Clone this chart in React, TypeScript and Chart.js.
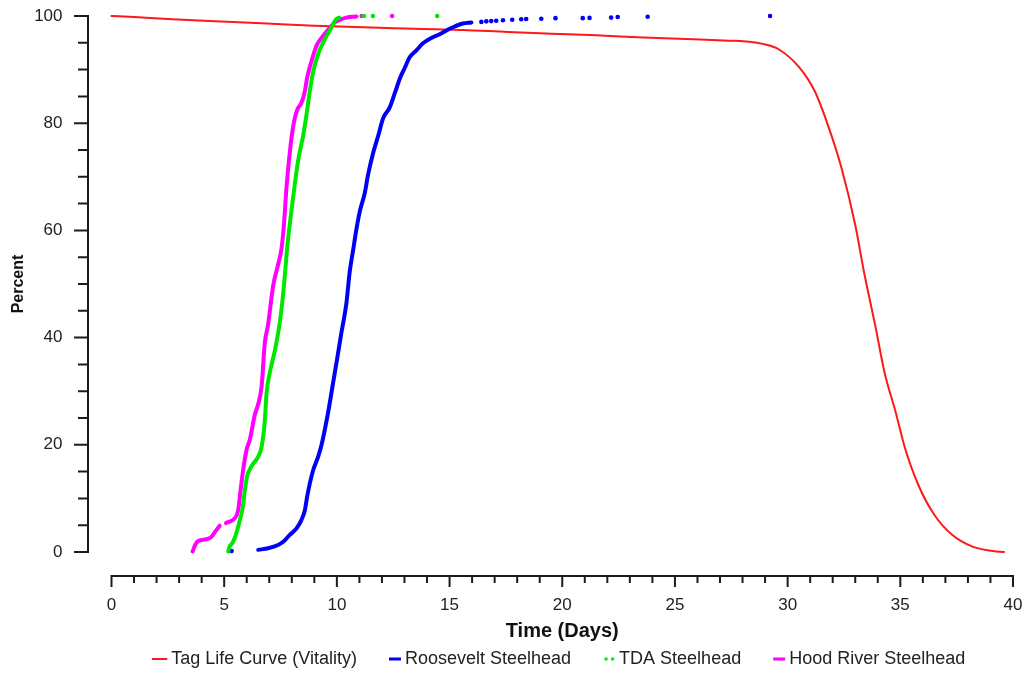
import { useEffect, useRef } from "react";
import { Chart, registerables } from "chart.js";

Chart.register(...registerables);

// Legend entries in display order
const seriesNames = [
  "Tag Life Curve (Vitality)",
  "Roosevelt Steelhead",
  "TDA Steelhead",
  "Hood River Steelhead",
];

// Tag life (vitality) curve: percent of tags still alive vs. days
const tagLifeDays = [0, 1.0, 2.7, 4.6, 6.9, 9.0, 11.9, 15.6, 17.6, 19.5, 21.5, 23.6, 25.5, 27.4, 28.3, 28.9, 29.6, 30.5, 31.2, 31.8, 32.4, 33.0, 33.4, 33.9, 34.3, 34.8, 35.2, 35.8, 36.5, 37.3, 38.2, 39.1, 39.6];
const tagLifePct = [100, 99.8, 99.4, 99.0, 98.6, 98.2, 97.8, 97.4, 97.0, 96.7, 96.4, 96.0, 95.7, 95.4, 95.2, 94.8, 93.8, 90.5, 86.0, 79.5, 71.5, 61.0, 52.0, 42.0, 33.5, 26.0, 19.5, 12.5, 7.0, 3.2, 1.0, 0.2, 0];

// Roosevelt Steelhead cumulative detections
const rooseveltDays = [6.51, 6.95, 7.39, 7.62, 7.91, 8.21, 8.43, 8.58, 8.68, 8.80, 8.95, 9.17, 9.32, 9.61, 9.83, 10.01, 10.20, 10.42, 10.57, 10.72, 10.87, 11.02, 11.24, 11.38, 11.60, 11.83, 12.05, 12.34, 12.57, 12.79, 13.01, 13.23, 13.53, 13.82, 14.19, 14.56, 14.86, 15.15, 15.59, 15.97];
const rooseveltPct = [0.4, 0.7, 1.3, 1.9, 3.2, 4.4, 6.0, 7.8, 10.3, 12.8, 15.3, 17.8, 20.0, 26.0, 31.5, 36.0, 40.9, 46.3, 52.3, 56.3, 60.3, 63.6, 67.0, 70.3, 74.3, 77.6, 80.9, 82.9, 85.6, 88.3, 90.3, 92.3, 93.6, 94.9, 95.9, 96.6, 97.3, 97.9, 98.6, 98.8];
const rooseveltLoneDays = [5.33, 16.41, 16.63, 16.85, 17.07, 17.37, 17.78, 18.18, 18.40, 19.07, 19.70, 20.91, 21.21, 22.17, 22.46, 23.79, 29.22];
const rooseveltLonePct = [0.2, 98.9, 99.0, 99.05, 99.1, 99.2, 99.3, 99.4, 99.45, 99.5, 99.6, 99.6, 99.65, 99.7, 99.8, 99.85, 100];

// TDA Steelhead cumulative detections
const tdaDays = [5.18, 5.24, 5.35, 5.47, 5.58, 5.70, 5.82, 5.92, 6.02, 6.15, 6.29, 6.51, 6.66, 6.80, 6.88, 7.03, 7.25, 7.47, 7.62, 7.72, 7.80, 7.95, 8.10, 8.28, 8.50, 8.65, 8.80, 8.95, 9.17, 9.46, 9.69, 9.95, 10.10];
const tdaPct = [0.1, 1.0, 1.6, 2.6, 4.1, 6.0, 8.2, 11.6, 14.2, 15.5, 16.5, 17.8, 19.6, 24.3, 29.6, 33.6, 37.6, 42.9, 48.3, 53.0, 57.0, 62.5, 67.5, 73.0, 77.6, 81.5, 86.0, 89.6, 92.9, 95.6, 97.3, 99.3, 99.7];
const tdaLoneDays = [11.2, 11.6, 14.45];
const tdaLonePct = [100, 100, 100];

// Hood River Steelhead cumulative detections (null marks the break near day 5)
const hoodDays = [3.60, 3.70, 3.80, 4.10, 4.40, 4.60, 4.80, 4.95, 5.08, 5.47, 5.62, 5.73, 5.84, 5.99, 6.14, 6.36, 6.51, 6.66, 6.80, 6.95, 7.17, 7.39, 7.54, 7.65, 7.77, 7.95, 8.10, 8.25, 8.43, 8.58, 8.68, 8.87, 9.10, 9.39, 9.65, 9.90, 10.20, 10.42, 10.87];
const hoodPct = [0.1, 1.2, 1.9, 2.3, 2.7, 3.8, 4.9, null, 5.4, 6.3, 7.8, 11.6, 15.3, 19.0, 21.0, 25.6, 27.6, 30.9, 38.9, 42.5, 49.6, 53.6, 56.5, 61.0, 68.3, 76.0, 80.3, 82.6, 83.8, 86.0, 88.5, 91.5, 94.5, 96.3, 97.6, 98.8, 99.4, 99.7, 99.9];
const hoodLoneDays = [11.1, 12.45];
const hoodLonePct = [100, 100];

// Axis ranges and tick steps
const xRange = [0, 40];
const yRange = [0, 100];
const xMinorStep = 1;
const xMajorStep = 5;
const yMinorStep = 5;
const yMajorStep = 20;

const colors = {
  tagLife: "rgb(255,24,24)",
  roosevelt: "rgb(0,0,245)",
  tda: "rgb(0,232,0)",
  hood: "rgb(255,0,255)",
};

const FONT = '"Liberation Sans", Arial, Helvetica, sans-serif';
const AXIS_COLOR = "#1c1c1c";

const pairs = (xs: number[], ys: (number | null)[]) =>
  xs.map((x, i) => ({ x, y: ys[i] }));

// Axes drawn detached from the plot: each axis line covers only its own range
const detachedAxes = {
  id: "detachedAxes",
  beforeDatasetsDraw(chart: any) {
    const { ctx } = chart;
    const xs = chart.scales.x;
    const ys = chart.scales.y;
    const yAxisX = xs.getPixelForValue(xRange[0]) - 23.5;
    const xAxisY = ys.getPixelForValue(yRange[0]) + 24;
    ctx.save();
    ctx.strokeStyle = AXIS_COLOR;
    ctx.lineWidth = 2;
    ctx.lineCap = "butt";

    // vertical axis
    const yTop = ys.getPixelForValue(yRange[1]);
    const yBottom = ys.getPixelForValue(yRange[0]);
    ctx.beginPath();
    ctx.moveTo(yAxisX, yTop - 1);
    ctx.lineTo(yAxisX, yBottom + 1);
    ys.ticks.forEach((t: any) => {
      if (t.value < yRange[0] || t.value > yRange[1]) return;
      const py = ys.getPixelForValue(t.value);
      const len = t.value % yMajorStep === 0 ? 14 : 10;
      ctx.moveTo(yAxisX - len, py);
      ctx.lineTo(yAxisX, py);
    });
    ctx.stroke();

    // horizontal axis
    const xLeft = xs.getPixelForValue(xRange[0]);
    const xRight = xs.getPixelForValue(xRange[1]);
    ctx.beginPath();
    ctx.moveTo(xLeft - 1, xAxisY);
    ctx.lineTo(xRight + 1, xAxisY);
    xs.ticks.forEach((t: any) => {
      if (t.value < xRange[0] || t.value > xRange[1]) return;
      const px = xs.getPixelForValue(t.value);
      const len = t.value % xMajorStep === 0 ? 11 : 7;
      ctx.moveTo(px, xAxisY);
      ctx.lineTo(px, xAxisY + len);
    });
    ctx.stroke();
    ctx.restore();
  },
};

// Legend swatches: short line or pair of dots ending just before the label
function makeSwatch(color: string, kind: "thin" | "thick" | "dots") {
  const c = document.createElement("canvas");
  c.width = 17;
  c.height = 6;
  const g = c.getContext("2d")!;
  g.fillStyle = color;
  const end = 15;
  if (kind === "thin") {
    g.fillRect(end - 15, 2, 15, 2);
  } else if (kind === "thick") {
    g.fillRect(end - 12, 1.5, 12, 3);
  } else {
    g.beginPath();
    g.arc(end - 9, 3, 1.8, 0, Math.PI * 2);
    g.arc(end - 2.5, 3, 1.8, 0, Math.PI * 2);
    g.fill();
  }
  return c;
}

export default function App() {
  const canvasRef = useRef<HTMLCanvasElement | null>(null);

  useEffect(() => {
    if (!canvasRef.current) return;
    Chart.defaults.font.family = FONT;

    const swatches = [
      makeSwatch(colors.tagLife, "thin"),
      makeSwatch(colors.roosevelt, "thick"),
      makeSwatch(colors.tda, "dots"),
      makeSwatch(colors.hood, "thick"),
    ];
    const swatchColors = [colors.tagLife, colors.roosevelt, colors.tda, colors.hood];

    const curve = (label: string, data: any[], color: string, width: number) => ({
      label,
      data,
      showLine: true,
      borderColor: color,
      backgroundColor: color,
      borderWidth: width,
      pointRadius: 0,
      cubicInterpolationMode: "monotone" as const,
      borderCapStyle: "round" as const,
      borderJoinStyle: "round" as const,
      spanGaps: false,
      clip: false as const,
    });
    const lone = (label: string, data: any[], color: string) => ({
      label,
      data,
      showLine: false,
      backgroundColor: color,
      borderColor: color,
      borderWidth: 0,
      pointRadius: 2.3,
      clip: false as const,
    });

    const chart = new Chart(canvasRef.current, {
      type: "scatter",
      data: {
        datasets: [
          curve(seriesNames[2], pairs(tdaDays, tdaPct), colors.tda, 4),
          curve(seriesNames[3], pairs(hoodDays, hoodPct), colors.hood, 4),
          curve(seriesNames[1], pairs(rooseveltDays, rooseveltPct), colors.roosevelt, 4),
          curve(seriesNames[0], pairs(tagLifeDays, tagLifePct), colors.tagLife, 2),
          lone(seriesNames[2], pairs(tdaLoneDays, tdaLonePct), colors.tda),
          lone(seriesNames[3], pairs(hoodLoneDays, hoodLonePct), colors.hood),
          lone(seriesNames[1], pairs(rooseveltLoneDays, rooseveltLonePct), colors.roosevelt),
        ],
      },
      options: {
        responsive: false,
        animation: false,
        events: [],
        layout: { padding: { top: 16, right: 15, bottom: 0, left: 0 } },
        scales: {
          x: {
            type: "linear",
            position: "bottom",
            min: xRange[0],
            max: xRange[1],
            grid: { display: false, drawTicks: false },
            border: { display: false },
            ticks: {
              stepSize: xMinorStep,
              autoSkip: false,
              maxRotation: 0,
              padding: 43,
              color: "#222",
              font: { size: 17 },
              callback: (v: any) => (Number(v) % xMajorStep === 0 ? String(v) : ""),
            },
            title: {
              display: true,
              text: "Time (Days)",
              color: "#111",
              font: { size: 20, weight: "bold" },
              padding: { top: 0, bottom: -29 },
            },
            afterFit: (s: any) => {
              s.height = 62;
              s.paddingLeft = 0;
              s.paddingRight = 0;
            },
          },
          y: {
            type: "linear",
            min: yRange[0],
            max: yRange[1],
            grid: { display: false, drawTicks: false },
            border: { display: false },
            ticks: {
              stepSize: yMinorStep,
              autoSkip: false,
              padding: 49,
              color: "#222",
              font: { size: 17 },
              callback: (v: any) => (Number(v) % yMajorStep === 0 ? String(v) : ""),
            },
            title: {
              display: true,
              text: "Percent",
              color: "#111",
              font: { size: 16, weight: "bold" },
              padding: { top: 9, bottom: 0 },
            },
            afterFit: (s: any) => {
              s.width = 111.5;
              s.paddingTop = 0;
              s.paddingBottom = 0;
            },
          },
        },
        plugins: {
          tooltip: { enabled: false },
          legend: {
            position: "bottom",
            fullSize: false,
            labels: {
              usePointStyle: true,
              pointStyleWidth: 3,
              padding: 36,
              color: "#222",
              font: { size: 18 },
              generateLabels: () =>
                seriesNames.map((text, i) => ({
                  text,
                  pointStyle: swatches[i],
                  fillStyle: swatchColors[i],
                  strokeStyle: swatchColors[i],
                  fontColor: "#222",
                  lineWidth: 0,
                  hidden: false,
                  datasetIndex: i,
                })),
            },
          },
        },
      },
      plugins: [detachedAxes],
    } as any);

    return () => chart.destroy();
  }, []);

  return (
    <canvas
      ref={canvasRef}
      width={1028}
      height={678}
      style={{ position: "fixed", left: 0, top: 0, display: "block", background: "#fff" }}
    />
  );
}
